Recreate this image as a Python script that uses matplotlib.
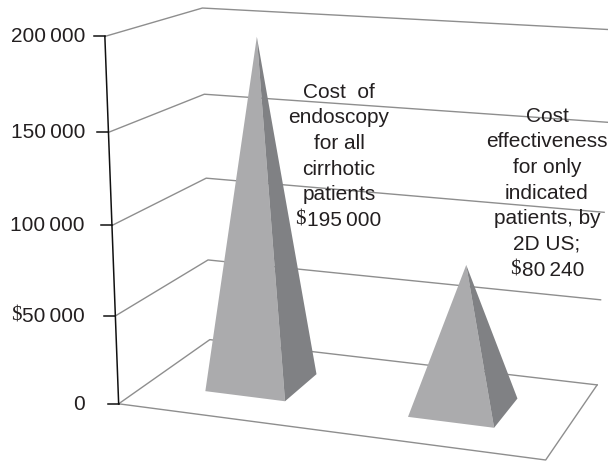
import numpy as np
import matplotlib
matplotlib.use('Agg')
import matplotlib.pyplot as plt

categories = ['endoscopy', 'indicated']
costs = [195000, 80240]
tick_values = [0, 50000, 100000, 150000, 200000]
tick_labels = ['0', '50\u2009000', '100\u2009000', '150\u2009000', '200\u2009000']

label_1 = ['Cost  of', 'endoscopy', 'for all', 'cirrhotic', 'patients', '195\u2009000']
label_2 = ['Cost', 'effectiveness', 'for only', 'indicated', 'patients, by', '2D US;', '80\u2009240']

# picture positions of the box corners, used to fit the perspective
front_left = [(118, 404), (115, 315), (112, 226), (109, 132), (105, 37)]
back_left = [(211, 340), (208, 260), (206, 178), (204, 94), (202, 8)]
back_right = [(597, 385), (600, 300), (604, 212), (608, 122), (612, 30)]
front_right_floor = (546, 460)

world, pix = [], []
for i, v in enumerate(tick_values):
    z = v / 200000
    world += [(0, 0, z), (0, 1, z), (1, 1, z)]
    pix += [front_left[i], back_left[i], back_right[i]]
world.append((1, 0, 0))
pix.append(front_right_floor)

rows, rhs = [], []
for (X, Y, Z), (u, v) in zip(world, pix):
    rows.append([X, Y, Z, 1, 0, 0, 0, 0, -u * X, -u * Y, -u * Z])
    rows.append([0, 0, 0, 0, X, Y, Z, 1, -v * X, -v * Y, -v * Z])
    rhs += [u, v]
P = np.linalg.lstsq(np.array(rows, float), np.array(rhs, float), rcond=None)[0]
P = np.append(P, 1).reshape(3, 4)


def proj(x, y, value):
    q = P @ np.array([x, y, value / 200000, 1])
    return q[0] / q[2], q[1] / q[2]


fig = plt.figure(figsize=(6.08, 4.62), dpi=100)
ax = fig.add_axes([0, 0, 1, 1])
ax.set_xlim(0, 608)
ax.set_ylim(462, 0)
ax.axis('off')

plt.rcParams['font.family'] = 'Liberation Sans'
grid = '#8e8e8e'
ink = '#231f20'

# walls and floor
for v in tick_values:
    pts = [proj(0, 0, v), proj(0, 1, v), proj(1, 1, v)]
    ax.plot(*zip(*pts), color=grid, lw=1.0, zorder=1)
ax.plot(*zip(proj(0, 0, 0), proj(1, 0, 0), proj(1, 1, 0)), color=grid, lw=1.0, zorder=1)

# pyramids
centers = [0.25, 0.747]
half = 0.1
for c, val in zip(centers, costs):
    fl = proj(c - half, 0.29, 0)
    fr = proj(c + half, 0.29, 0)
    br = proj(c + half, 0.69, 0)
    top = proj(c, 0.49, val)
    ax.fill(*zip(fl, fr, top), color='#ababad', lw=0, zorder=3)
    ax.fill(*zip(fr, br, top), color='#808184', lw=0, zorder=3)

# value axis
ax.plot(*zip(proj(0, 0, 0), proj(0, 0, 200000)), color='#111111', lw=1.1, zorder=4)
for v, lab in zip(tick_values, tick_labels):
    x, y = proj(0, 0, v)
    ax.plot([x - 11, x], [y, y], color='#111111', lw=1.1, zorder=4)
    ax.text(85, y + 0.5, lab, ha='right', va='center', fontsize=15, color=ink, zorder=5)
ax.text(22, proj(0, 0, 50000)[1] + 0.5, '$', parse_math=False, ha='right', va='center',
        fontsize=15, family='Liberation Serif', color=ink, zorder=5)

# labels, the amount in the last line carries a serif dollar sign
for i, line in enumerate(label_1[:-1]):
    ax.text(339, 92 + i * 25.7, line, ha='center', va='center', fontsize=15, color=ink, zorder=5)
ax.text(307, 220.5, label_1[-1], ha='left', va='center', fontsize=15, color=ink, zorder=5)
ax.text(306, 220.5, '$', parse_math=False, ha='right', va='center', fontsize=15,
        family='Liberation Serif', color=ink, zorder=5)

for i, line in enumerate(label_2[:-1]):
    ax.text(547, 116 + i * 25.7, line, ha='center', va='center', fontsize=15, color=ink, zorder=5)
ax.text(522, 270, label_2[-1], ha='left', va='center', fontsize=15, color=ink, zorder=5)
ax.text(521, 270, '$', parse_math=False, ha='right', va='center', fontsize=15,
        family='Liberation Serif', color=ink, zorder=5)

fig.savefig('out.png', dpi=100)
